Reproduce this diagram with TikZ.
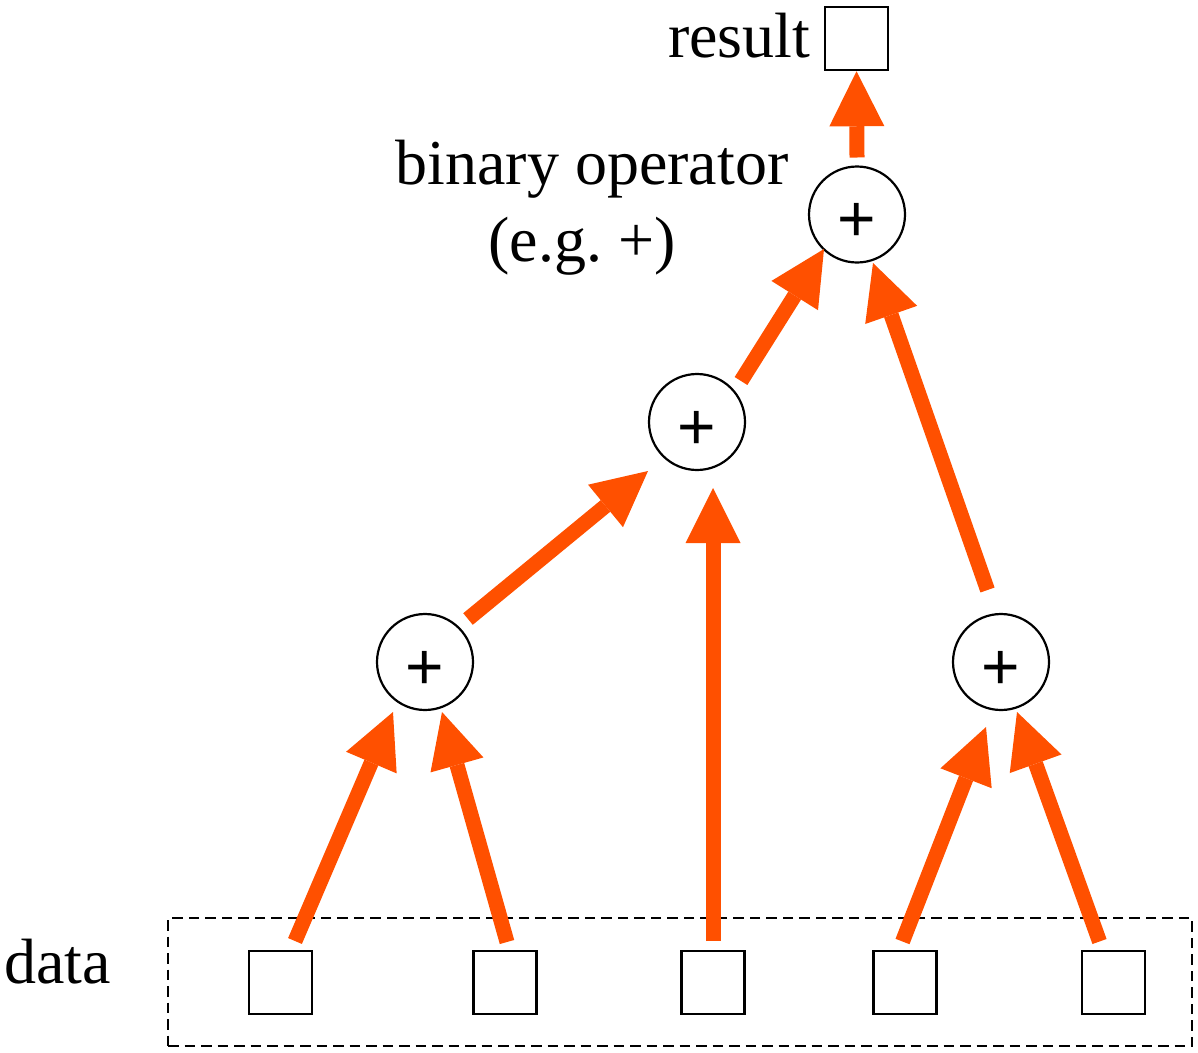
\documentclass[tikz,border=0pt]{standalone}
\usepackage{fontspec}
\setmainfont{Liberation Serif}
\newfontfamily\plusfont{Liberation Sans}
\usetikzlibrary{arrows.meta,calc}
\definecolor{arrowc}{HTML}{FF5000}
\tikzset{
  lbl/.style={inner sep=0pt, font=\fontsize{64}{70}\selectfont, anchor=base west},
  opnode/.style={circle, draw, line width=2.2pt, minimum size=96pt, inner sep=0pt,
    text height=0pt, text depth=0pt, font=\plusfont\fontsize{66}{70}\selectfont},
  valbox/.style={rectangle, draw, line width=2.5pt, minimum size=63pt, inner sep=0pt},
  frame/.style={rectangle, draw, dash pattern=on 10.5pt off 6pt, line width=2.6pt, inner sep=0pt},
  flow/.style={draw=arrowc, line width=15pt,
    -{Triangle[length=55pt,width=55pt,line width'=0pt,fill=arrowc]}},
}
\newcommand{\opsym}{\raisebox{-27pt}{+}}
\begin{document}
\begin{tikzpicture}[x=1pt,y=-1pt]
\useasboundingbox (0,0) rectangle (1198,1052);
% frame around data
\node[frame, minimum width=1024pt, minimum height=128pt] (fr) at (680,982) {};
% data boxes
\node[valbox] (d1) at (280.5,982.5) {};
\node[valbox] (d2) at (505,982.5) {};
\node[valbox] (d3) at (713,982.5) {};
\node[valbox] (d4) at (905,982.5) {};
\node[valbox] (d5) at (1113.5,982.5) {};
% result box
\node[valbox] (res) at (856.5,38.5) {};
% operators
\node[opnode] (T) at (857,214.5) {\opsym};
\node[opnode] (M) at (697,422) {\opsym};
\node[opnode] (L) at (425,662) {\opsym};
\node[opnode] (R) at (1001,662) {\opsym};
% labels
\node[lbl] (tres) at (668,57) {result};
\node[lbl, anchor=base] (tbin) at (592,184) {binary operator};
\node[lbl, anchor=base] (teg) at (582,261) {(e.g.\ +)};
\node[lbl] (tdata) at (4,983) {data};
% connectors
\draw[flow] ($(T)+(0,-57)$) -- (res.south);
\draw[flow] ($(M)+(44,-41)$) -- ($(T)+(-33,34.5)$);
\draw[flow] ($(R)+(-13.5,-72)$) -- ($(T)+(16,48.5)$);
\draw[flow] ($(L)+(43,-43)$) -- ($(M)+(-49,49)$);
\draw[flow] ($(d3)+(0,-41.5)$) -- ($(M)+(16,66)$);
\draw[flow] ($(d1)+(14.5,-41.5)$) -- ($(L)+(-32,50)$);
\draw[flow] ($(d2)+(2,-40.5)$) -- ($(L)+(17,50)$);
\draw[flow] ($(d4)+(-2.5,-41)$) -- ($(R)+(-15,65)$);
\draw[flow] ($(d5)+(-14,-41)$) -- ($(R)+(16,50)$);
\end{tikzpicture}
\end{document}
